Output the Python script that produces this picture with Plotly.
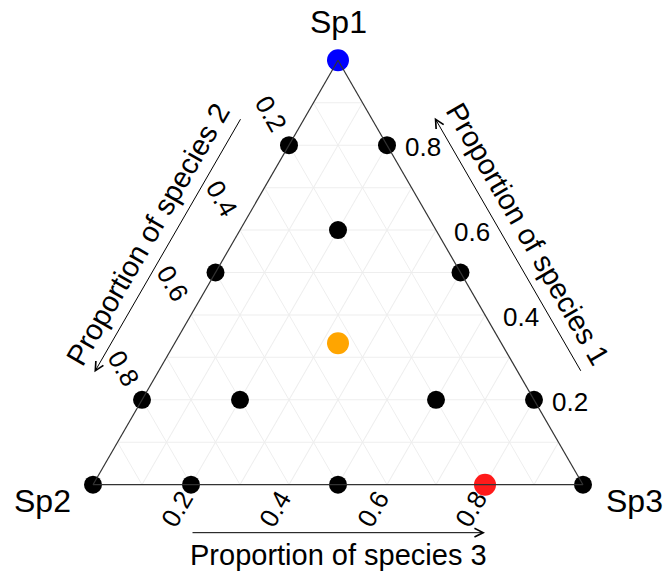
import math
import plotly.graph_objects as go

# ---- data ----
black_sp1 = [0, 0, 0.8, 0.5, 0.2, 0.8, 0.5, 0.2, 0, 0, 0.6, 0.2, 0.2]
black_sp2 = [1, 0, 0.2, 0.5, 0.8, 0, 0, 0, 0.8, 0.5, 0.2, 0.6, 0.2]
black_sp3 = [0, 1, 0, 0, 0, 0.2, 0.5, 0.8, 0.2, 0.5, 0.2, 0.2, 0.6]

color_sp1 = [1, 1 / 3, 0]
color_sp2 = [0, 1 / 3, 0.2]
color_sp3 = [0, 1 / 3, 0.8]
color_cols = ["#0000FF", "#FFA500", "#FF1A1A"]

tick_vals = [0.2, 0.4, 0.6, 0.8]
tick_text = ["0.2", "0.4", "0.6", "0.8"]
vertex_labels = ["Sp1", "Sp2", "Sp3"]
axis_titles = ["Proportion of species 1", "Proportion of species 2", "Proportion of species 3"]

# ---- layout geometry (page body margin removed via post_script) ----
W, H = 667, 572
ML, MR, MT, MB = 93, 84, 60, 87
PW, PH = W - ML - MR, H - MT - MB
S3 = math.sqrt(3)
if PW > (2 / S3) * PH:
    th = PH
    tw = th * 2 / S3
else:
    tw = PW
    th = tw * S3 / 2
tx0 = ML + PW / 2 - tw / 2
ty0 = MT + PH / 2 - th / 2


def px(s1, s2, s3):
    t = s1 + s2 + s3
    s1, s2, s3 = s1 / t, s2 / t, s3 / t
    return tx0 + tw * (s3 + s1 / 2), ty0 + th * (1 - s1)


def paper(x, y):
    return (x - ML) / PW, (MT + PH - y) / PH


FONT = "Liberation Sans, Arial, sans-serif"
fig = go.Figure()
fig.add_trace(go.Scatterternary(
    a=black_sp1, b=black_sp2, c=black_sp3, mode="markers",
    marker=dict(size=18, color="black"), cliponaxis=False, showlegend=False))
fig.add_trace(go.Scatterternary(
    a=color_sp1, b=color_sp2, c=color_sp3, mode="markers",
    marker=dict(size=22, color=color_cols), cliponaxis=False, showlegend=False))

ax_common = dict(showticklabels=False, ticks="", dtick=0.1, tick0=0,
                 showgrid=True, gridcolor="rgb(238,238,238)", gridwidth=1,
                 showline=True, linecolor="#333333", linewidth=1.2, title=dict(text=""))

annotations = []


def add_text(x, y, text, size, angle=0):
    xp, yp = paper(x, y)
    annotations.append(dict(x=xp, y=yp, xref="paper", yref="paper", text=text,
                            showarrow=False, textangle=angle, xanchor="center",
                            yanchor="middle", font=dict(size=size, color="black", family=FONT)))


def add_arrow(tail, head):
    hx, hy = paper(*head)
    annotations.append(dict(x=hx, y=hy, xref="paper", yref="paper", text="",
                            showarrow=True, ax=tail[0] - head[0], ay=tail[1] - head[1],
                            axref="pixel", ayref="pixel", arrowhead=5, arrowsize=1.7,
                            arrowwidth=1, arrowcolor="black", standoff=0, startstandoff=0))


TICK_FS = 26
n_right = (S3 / 2, -0.5)
n_left = (-S3 / 2, -0.5)
for v, t in zip(tick_vals, tick_text):
    # species 1: right edge, horizontal labels
    x, y = px(v, 0, 1 - v)
    add_text(x + 36, y + 2, t, TICK_FS)
    # species 2: left edge
    x, y = px(1 - v, v, 0)
    add_text(x - 0.5 * 37, y - S3 / 2 * 37, t, TICK_FS, 60)
    # species 3: bottom edge
    x, y = px(0, 1 - v, v)
    add_text(x - 0.5 * 28, y + S3 / 2 * 28, t, TICK_FS, -60)

lo, hi = tick_vals[0], tick_vals[-1]
off_side, off_bot = 55, 48
# species 1 arrow (right)
a = px(lo, 0, 1 - lo); b = px(hi, 0, 1 - hi)
add_arrow((a[0] + n_right[0] * off_side, a[1] + n_right[1] * off_side),
          (b[0] + n_right[0] * off_side, b[1] + n_right[1] * off_side))
# species 2 arrow (left)
a = px(1 - lo, lo, 0); b = px(1 - hi, hi, 0)
add_arrow((a[0] + n_left[0] * off_side, a[1] + n_left[1] * off_side),
          (b[0] + n_left[0] * off_side, b[1] + n_left[1] * off_side))
# species 3 arrow (bottom)
a = px(0, 1 - lo, lo); b = px(0, 1 - hi, hi)
add_arrow((a[0], a[1] + off_bot), (b[0], b[1] + off_bot))

TITLE_FS = 29
off_title = 78
m = px(0.5, 0, 0.5)
add_text(m[0] + n_right[0] * off_title, m[1] + n_right[1] * off_title, axis_titles[0], TITLE_FS, 60)
m = px(0.5, 0.5, 0)
add_text(m[0] + n_left[0] * off_title, m[1] + n_left[1] * off_title, axis_titles[1], TITLE_FS, -60)
m = px(0, 0.5, 0.5)
add_text(m[0], m[1] + 70, axis_titles[2], TITLE_FS)

VFS = 32
v1 = px(1, 0, 0); v2 = px(0, 1, 0); v3 = px(0, 0, 1)
add_text(v1[0], v1[1] - 38, vertex_labels[0], VFS)
add_text(v2[0] - 51, v2[1] + 16, vertex_labels[1], VFS)
add_text(v3[0] + 51, v3[1] + 16, vertex_labels[2], VFS)

fig.update_layout(
    width=W, height=H, margin=dict(l=ML, r=MR, t=MT, b=MB, pad=0),
    paper_bgcolor="white", plot_bgcolor="white",
    ternary=dict(sum=1, bgcolor="white", domain=dict(x=[0, 1], y=[0, 1]),
                 aaxis=ax_common, baxis=ax_common, caxis=ax_common),
    annotations=annotations, showlegend=False,
)
fig.write_html("out.html", config={"displayModeBar": False},
               post_script="document.body.style.margin='0px';")
